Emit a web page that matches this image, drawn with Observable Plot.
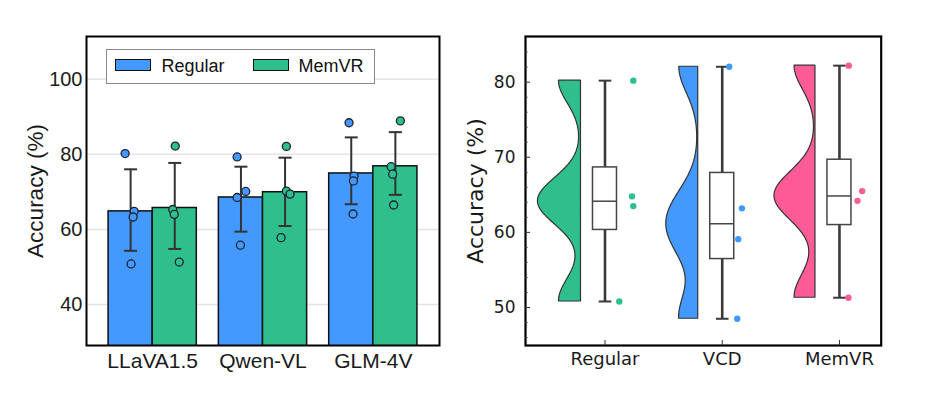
<!DOCTYPE html>
<html><head><meta charset="utf-8">
<script src="https://cdn.jsdelivr.net/npm/d3@7"></script>
<script src="https://cdn.jsdelivr.net/npm/@observablehq/plot@0.6"></script>
<style>
body{margin:0;background:#fff}
#wrap{position:relative;width:940px;height:399px;overflow:hidden;background:#fff}
#left{position:absolute;left:0;top:0}
#right{position:absolute;left:460px;top:0}
#legend{position:absolute;left:106px;top:49px;width:267px;height:33px;border:1.5px solid #8a8a8a;background:#fff;font-family:"Liberation Sans",Arial,sans-serif;font-size:18px;color:#111}
.sw{position:absolute;top:8.5px;width:34px;height:10px;border:1.5px solid #111}
.lb{position:absolute;top:7px;line-height:18px;white-space:nowrap}
#left g[aria-label="y-axis label"]{font-size:22.5px}
#right g[aria-label="y-axis label"]{font-size:22px}
</style></head>
<body>
<div id="wrap"><div id="left"></div><div id="legend"></div><div id="right"></div></div>
<script>
// ---------- data: left panel ----------
const models = ["LLaVA1.5", "Qwen-VL", "GLM-4V"];
const methods = ["Regular", "MemVR"];
const regularMean = [64.8, 68.5, 74.9];
const memvrMean = [65.7, 69.9, 76.8];
const regularErrLow = [54.3, 59.4, 66.7];
const regularErrHigh = [76.0, 76.7, 84.5];
const memvrErrLow = [54.8, 60.9, 69.2];
const memvrErrHigh = [77.7, 79.1, 85.9];
const regularPoints = [[80.2, 64.8, 63.3, 50.8], [79.3, 68.5, 70.1, 55.8], [88.4, 74.2, 72.9, 64.1]];
const memvrPoints = [[82.2, 65.3, 64.0, 51.3], [82.1, 70.2, 69.4, 57.8], [88.9, 76.7, 74.7, 66.5]];
const yTicksLeft = [40, 60, 80, 100];

// ---------- data: right panel ----------
const rainCats = ["Regular", "VCD", "MemVR"];
const regularAcc = [80.2, 64.8, 63.5, 50.8];
const vcdAcc = [82.05, 63.2, 59.1, 48.5];
const memvrAcc = [82.2, 65.5, 64.2, 51.3];
const yTicksRight = [50, 60, 70, 80];

// ---------- styling / layout ----------
const BLUE = "#4499ff", GREEN = "#2ebf8c", PINK = "#ff5c97";
// horizontal jitter of the points (pixels)
const jitterLeft = [
  [[-5.5, 3.5, 2.5, 0.5], [0.5, -2, -0.5, 4.5]],
  [[-3.8, -3.8, 4.8, -0.5], [1.3, 1.3, 5, -4]],
  [[-2.2, 2.8, 2.2, 1.8], [5, -4.3, -2.7, -1.7]]
];
const jitterRight = [[28.3, 27, 28.3, 14.3], [7, 19.7, 16, 15], [9.3, 22.7, 18, 9]];

const hline = {draw(ctx, size) { const r = Math.sqrt(size / Math.PI); ctx.moveTo(-r, 0); ctx.lineTo(r, 0); }};

// ---------- left plot ----------
const LW = 460, LML = 86, LMR = 21, LXD = [-0.6, 2.6];
const ppuL = (LW - LML - LMR) / (LXD[1] - LXD[0]);
const BARW = 0.4;
const bars = [];
const pts = [];
models.forEach((m, g) => {
  [[regularMean, regularErrLow, regularErrHigh, regularPoints], [memvrMean, memvrErrLow, memvrErrHigh, memvrPoints]].forEach(([mean, lo, hi, p], k) => {
    const c = g + (k === 0 ? -BARW / 2 : BARW / 2);
    bars.push({model: m, method: methods[k], g, k, c, mean: mean[g], lo: lo[g], hi: hi[g]});
    p[g].forEach((v, i) => pts.push({method: methods[k], x: c + jitterLeft[g][k][i] / ppuL, v}));
  });
});

const leftPlot = Plot.plot({
  width: LW, height: 399, marginLeft: LML, marginRight: LMR, marginTop: 36, marginBottom: 54,
  x: {domain: LXD},
  y: {domain: [29.08, 111.37]},
  color: {domain: methods, range: [BLUE, GREEN]},
  style: {fontFamily: '"Liberation Sans", Arial, sans-serif', color: "#1a1a1a", background: "transparent"},
  marks: [
    Plot.gridY(yTicksLeft, {stroke: "#e4e4e4", strokeOpacity: 1, strokeWidth: 1.5}),
    Plot.rectY(bars, {x1: d => d.c - BARW / 2, x2: d => d.c + BARW / 2, y1: 0, y2: "mean", fill: "method", stroke: "#111", strokeWidth: 1.5, clip: true}),
    Plot.ruleX(bars, {x: "c", y1: "lo", y2: "hi", stroke: "#333", strokeWidth: 2}),
    Plot.dot(bars, {x: "c", y: "lo", r: 6.5, symbol: hline, stroke: "#333", strokeWidth: 2, fill: "none"}),
    Plot.dot(bars, {x: "c", y: "hi", r: 6.5, symbol: hline, stroke: "#333", strokeWidth: 2, fill: "none"}),
    Plot.dot(pts, {x: "x", y: "v", r: 4, fill: "method", stroke: "#1c2230", strokeWidth: 1.3}),
    Plot.frame({stroke: "#000", strokeWidth: 2}),
    Plot.axisY(yTicksLeft, {tickSize: 0, tickPadding: 4, fontSize: 20, label: "Accuracy (%)", labelAnchor: "center", labelArrow: "none", labelOffset: 59}),
    Plot.axisX([0, 1, 2], {tickSize: 0, tickPadding: 8, fontSize: 21, tickFormat: i => models[i], label: null})
  ]
});
document.getElementById("left").appendChild(leftPlot);

// legend
const legend = document.getElementById("legend");
[[7.5, 54.5], [145.5, 191.5]].forEach(([sx, lx], k) => {
  const sw = document.createElement("div"); sw.className = "sw"; sw.style.left = sx + "px"; sw.style.background = [BLUE, GREEN][k];
  const lb = document.createElement("div"); lb.className = "lb"; lb.style.left = lx + "px"; lb.textContent = methods[k];
  legend.appendChild(sw); legend.appendChild(lb);
});

// ---------- right plot ----------
const RW = 480, RML = 65, RMR = 59.3, RXD = [-0.678, 2.356];
const ppuR = (RW - RML - RMR) / (RXD[1] - RXD[0]);
const BOXH = 12 / ppuR;        // half box width
const VEDGE = 24 / ppuR;       // violin flat edge offset from box centre
const VK = 665 / ppuR;         // violin width per unit density
const groups = [regularAcc, vcdAcc, memvrAcc];

const violin = [], stats = [], rpts = [];
groups.forEach((vals, i) => {
  const cat = rainCats[i];
  const h = 0.25 * d3.deviation(vals);
  const lo = d3.min(vals), hi = d3.max(vals), n = 160;
  for (let s = 0; s <= n; s++) {
    const y = lo + (hi - lo) * s / n;
    const d = d3.mean(vals, v => Math.exp(-0.5 * ((y - v) / h) ** 2)) / (h * Math.sqrt(2 * Math.PI));
    violin.push({cat, i, y, d});
  }
  const sorted = vals.slice().sort(d3.ascending);
  const q1 = d3.quantileSorted(sorted, 0.25), med = d3.quantileSorted(sorted, 0.5), q3 = d3.quantileSorted(sorted, 0.75);
  const iqr = q3 - q1;
  const wlo = d3.min(sorted.filter(v => v >= q1 - 1.5 * iqr));
  const whi = d3.max(sorted.filter(v => v <= q3 + 1.5 * iqr));
  stats.push({cat, i, q1, med, q3, wlo, whi});
  vals.forEach((v, j) => rpts.push({cat, x: i + jitterRight[i][j] / ppuR, v}));
});

const minorTicks = d3.range(46, 86, 2).filter(t => t % 10 !== 0);

const rightPlot = Plot.plot({
  width: RW, height: 399, marginLeft: RML, marginRight: RMR, marginTop: 36, marginBottom: 54,
  x: {domain: RXD},
  y: {domain: [44.94, 86.08]},
  color: {domain: rainCats, range: [GREEN, BLUE, PINK]},
  style: {fontFamily: '"DejaVu Sans", sans-serif', color: "#1a1a1a", background: "transparent"},
  marks: [
    Plot.areaX(violin, {y: "y", x1: d => d.i - VEDGE - d.d * VK, x2: d => d.i - VEDGE, z: "cat", fill: "cat", stroke: "#333", strokeWidth: 1.2, curve: "linear"}),
    Plot.ruleX(stats, {x: "i", y1: "wlo", y2: "q1", stroke: "#3a3a3a", strokeWidth: 2.6}),
    Plot.ruleX(stats, {x: "i", y1: "q3", y2: "whi", stroke: "#3a3a3a", strokeWidth: 2.6}),
    Plot.dot(stats, {x: "i", y: "wlo", r: 6.3, symbol: hline, stroke: "#3a3a3a", strokeWidth: 2, fill: "none"}),
    Plot.dot(stats, {x: "i", y: "whi", r: 6.3, symbol: hline, stroke: "#3a3a3a", strokeWidth: 2, fill: "none"}),
    Plot.rect(stats, {x1: d => d.i - BOXH, x2: d => d.i + BOXH, y1: "q1", y2: "q3", fill: "white", stroke: "#454545", strokeWidth: 1.5}),
    Plot.ruleY(stats, {y: "med", x1: d => d.i - BOXH, x2: d => d.i + BOXH, stroke: "#454545", strokeWidth: 1.5}),
    Plot.dot(rpts, {x: "x", y: "v", r: 3.2, fill: "cat"}),
    Plot.frame({stroke: "#000", strokeWidth: 2.2}),
    Plot.axisY(minorTicks, {tickSize: -2.5, tickFormat: () => "", label: null, stroke: "#333"}),
    Plot.axisY(yTicksRight, {tickSize: -5, tickPadding: 15, fontSize: 17, stroke: "#333", label: "Accuracy (%)", labelAnchor: "center", labelArrow: "none", labelOffset: 58}),
    Plot.axisX([0, 1, 2], {tickSize: -5, tickPadding: 12, fontSize: 18, stroke: "#333", tickFormat: i => rainCats[i], label: null})
  ]
});
document.getElementById("right").appendChild(rightPlot);
</script>
</body></html>
